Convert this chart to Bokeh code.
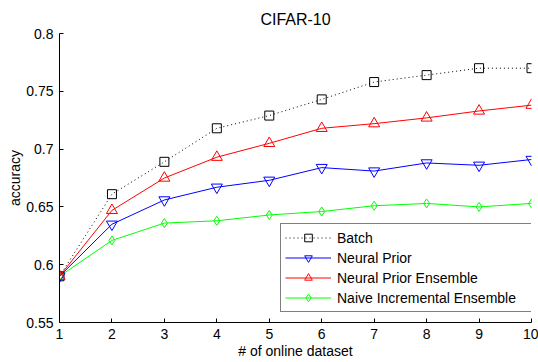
from bokeh.plotting import figure
from bokeh.models import FixedTicker, Legend, LegendItem, Range1d
from bokeh.embed import file_html
from bokeh.resources import INLINE

title = "CIFAR-10"
x_label = "# of online dataset"
y_label = "accuracy"
x = [1, 2, 3, 4, 5, 6, 7, 8, 9, 10]
batch = [0.590, 0.661, 0.689, 0.718, 0.729, 0.743, 0.758, 0.764, 0.770, 0.770]
neural_prior = [0.590, 0.635, 0.656, 0.667, 0.673, 0.684, 0.681, 0.688, 0.686, 0.691]
np_ensemble = [0.590, 0.647, 0.675, 0.693, 0.705, 0.718, 0.722, 0.727, 0.733, 0.738]
naive = [0.590, 0.621, 0.636, 0.638, 0.643, 0.646, 0.651, 0.653, 0.650, 0.653]
y_ticks = [0.55, 0.6, 0.65, 0.7, 0.75, 0.8]
y_tick_labels = ["0.55", "0.6", "0.65", "0.7", "0.75", "0.8"]
names = ["Batch", "Neural Prior", "Neural Prior Ensemble", "Naive Incremental Ensemble"]

FONT = "Liberation Sans"

p = figure(width=538, height=362, output_backend="svg", toolbar_location=None,
           x_range=Range1d(1, 10), y_range=Range1d(0.55, 0.8),
           min_border_left=59, min_border_right=7, min_border_top=33, min_border_bottom=40)
p.title.text = title
p.title.align = "center"
p.title.text_font = FONT
p.title.text_font_size = "16px"
p.title.text_font_style = "normal"
p.title.text_color = "black"
p.title.standoff = 11
p.outline_line_color = None
p.xgrid.visible = False
p.ygrid.visible = False

for ax in (p.xaxis[0], p.yaxis[0]):
    ax.major_tick_in = 4
    ax.major_tick_out = 0
    ax.minor_tick_in = 0
    ax.minor_tick_out = 0
    ax.axis_line_color = "black"
    ax.major_tick_line_color = "black"
    ax.major_label_text_font = FONT
    ax.major_label_text_font_size = "14px"
    ax.major_label_text_color = "black"
    ax.axis_label_text_font = FONT
    ax.axis_label_text_font_size = "14px"
    ax.axis_label_text_font_style = "normal"
    ax.axis_label_text_color = "black"

p.xaxis.ticker = FixedTicker(ticks=x)
p.yaxis.ticker = FixedTicker(ticks=y_ticks)
p.yaxis.major_label_overrides = {t: l for t, l in zip(y_ticks, y_tick_labels)}
p.xaxis.axis_label = x_label
p.yaxis.axis_label = y_label
p.xaxis.major_label_standoff = 6
p.yaxis.major_label_standoff = 6
p.xaxis.axis_label_standoff = 1
p.yaxis.axis_label_standoff = 0

r_b_line = p.line(x, batch, line_color="black", line_width=1, line_dash="1 3")
r_b_mark = p.scatter(x, batch, marker="square", size=9, line_color="black", fill_color=None)
r_n_line = p.line(x, naive, line_color="#00ff00", line_width=1)
r_n_mark = p.scatter(x, naive, marker="diamond", size=9, line_color="#00ff00", fill_color=None)
r_p_line = p.line(x, neural_prior, line_color="#0000ff", line_width=1)
r_p_mark = p.scatter(x, neural_prior, marker="inverted_triangle", size=11, line_color="#0000ff", fill_color=None)
r_e_line = p.line(x, np_ensemble, line_color="#ff0000", line_width=1)
r_e_mark = p.scatter(x, np_ensemble, marker="triangle", size=11, line_color="#ff0000", fill_color=None)

legend = Legend(items=[
    LegendItem(label=names[0], renderers=[r_b_line, r_b_mark]),
    LegendItem(label=names[1], renderers=[r_p_line, r_p_mark]),
    LegendItem(label=names[2], renderers=[r_e_line, r_e_mark]),
    LegendItem(label=names[3], renderers=[r_n_line, r_n_mark]),
], location=(221, 10))
legend.padding = 4
legend.spacing = 1
legend.glyph_width = 46
legend.glyph_height = 19
legend.label_height = 19
legend.label_width = 191
legend.label_standoff = 6
legend.label_text_font = FONT
legend.label_text_font_size = "14px"
legend.label_text_color = "black"
legend.border_line_color = "black"
legend.border_line_width = 1
legend.background_fill_color = "white"
legend.background_fill_alpha = 1
legend.margin = 0
p.add_layout(legend, "center")

open("out.html", "w").write(file_html(p, INLINE))
